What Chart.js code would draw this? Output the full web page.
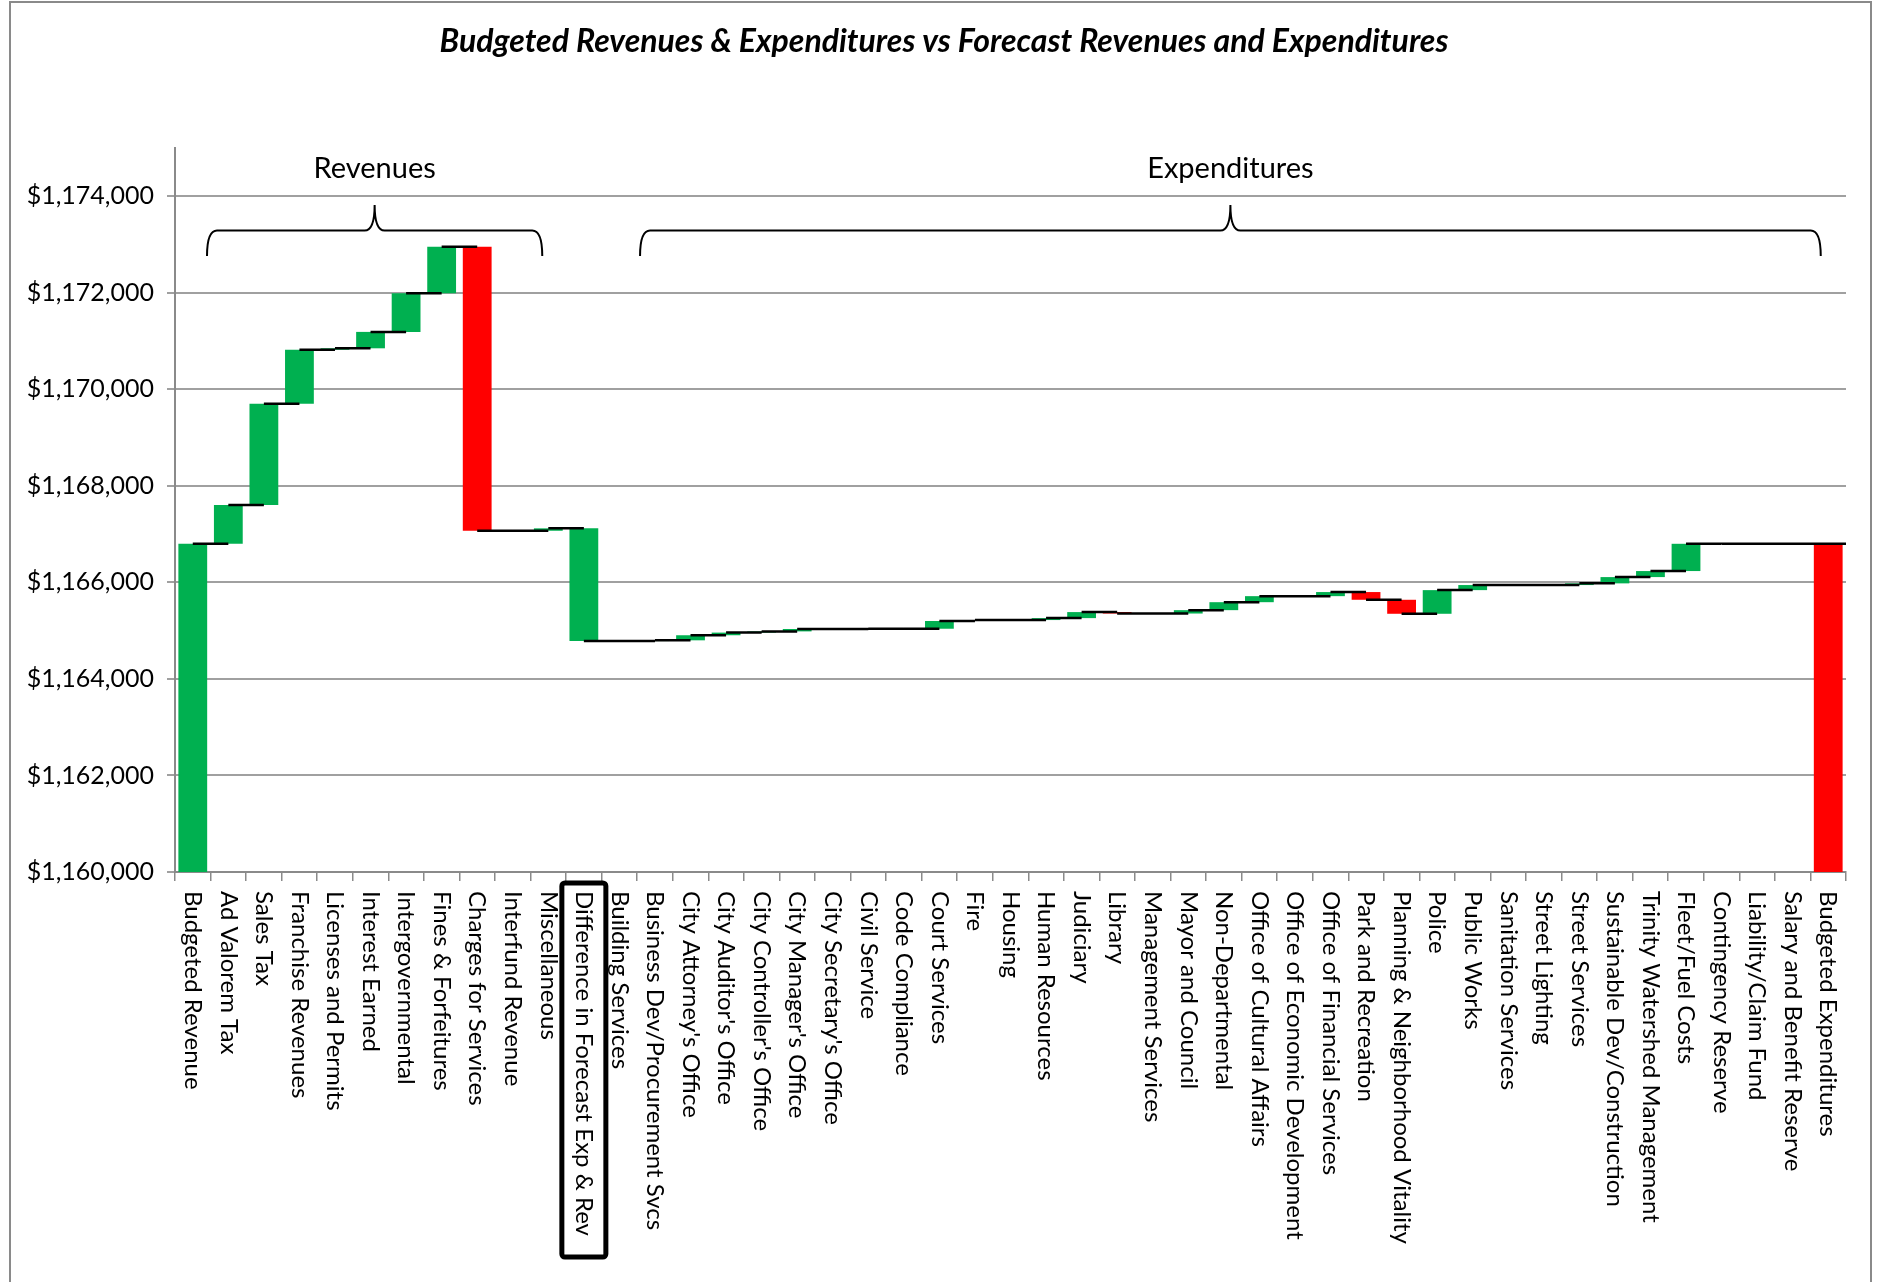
<!DOCTYPE html>
<html>
<head>
<meta charset="utf-8">
<script src="https://cdn.jsdelivr.net/npm/chart.js@4.4.1/dist/chart.umd.min.js"></script>
<style>
  html, body { margin: 0; padding: 0; background: #fff; overflow: hidden; }
  .chart__container { position: relative; width: 1883px; height: 1282px; }
  .chart__frame {
    position: absolute; left: 9px; top: 1px; width: 1859px; height: 1400px;
    border: 2px solid #8a8a8a; pointer-events: none;
  }
</style>
</head>
<body>
<div class="chart__container">
  <canvas id="chart"></canvas>
  <div class="chart__frame"></div>
</div>
<script>
// --- data (in $ thousands) ---
const budgetedRevenue = 1166800;
const budgetedExpenditures = 1166800;

const revenueLabels = [
  'Ad Valorem Tax', 'Sales Tax', 'Franchise Revenues', 'Licenses and Permits',
  'Interest Earned', 'Intergovernmental', 'Fines & Forfeitures',
  'Charges for Services', 'Interfund Revenue', 'Miscellaneous',
];
const revenueChanges = [805, 2095, 1120, 30, 340, 800, 965, -5885, 0, 50];

const differenceLabel = 'Difference in Forecast Exp & Rev';
const differenceChange = -2335;

const expenditureLabels = [
  'Building Services', 'Business Dev/Procurement Svcs', "City Attorney's Office",
  "City Auditor's Office", "City Controller's Office", "City Manager's Office",
  "City Secretary's Office", 'Civil Service', 'Code Compliance', 'Court Services',
  'Fire', 'Housing', 'Human Resources', 'Judiciary', 'Library',
  'Management Services', 'Mayor and Council', 'Non-Departmental',
  'Office of Cultural Affairs', 'Office of Economic Development',
  'Office of Financial Services', 'Park and Recreation',
  'Planning & Neighborhood Vitality', 'Police', 'Public Works',
  'Sanitation Services', 'Street Lighting', 'Street Services',
  'Sustainable Dev/Construction', 'Trinity Watershed Management',
  'Fleet/Fuel Costs', 'Contingency Reserve', 'Liability/Claim Fund',
  'Salary and Benefit Reserve',
];
const expenditureChanges = [
  0, 15, 105, 55, 25, 50, 0, 5, 0, 160,
  20, 0, 40, 125, -30, 0, 70, 165, 125, 0,
  85, -160, -290, 490, 105, 0, 0, 35, 130, 125,
  565, 0, 0, 0,
];

const yTickValues = [1160000, 1162000, 1164000, 1166000, 1168000, 1170000, 1172000, 1174000];
const yMax = 1175000;

const titleText = 'Budgeted Revenues & Expenditures vs Forecast Revenues and Expenditures';

// --- build waterfall from the arrays ---
const categories = ['Budgeted Revenue', ...revenueLabels, differenceLabel, ...expenditureLabels, 'Budgeted Expenditures'];
const changes = [null, ...revenueChanges, differenceChange, ...expenditureChanges, null];
const last = categories.length - 1;
const diffIdx = categories.indexOf(differenceLabel);

const GREEN = '#00b050';
const RED = '#ff0000';

const bars = [];
const levels = [];
const colors = [];
let run = 0;
categories.forEach((c, i) => {
  if (i === 0) {
    bars.push([0, budgetedRevenue]); run = budgetedRevenue; colors.push(GREEN);
  } else if (i === last) {
    bars.push([0, budgetedExpenditures]); run = budgetedExpenditures; colors.push(RED);
  } else {
    const d = changes[i];
    bars.push([run, run + d]);
    run += d;
    colors.push(i === diffIdx || d >= 0 ? GREEN : RED);
  }
  levels.push(run);
});

// connector segments: centre of bar i -> centre of bar i+1 at running level
const connectors = [];
levels.forEach((v, i) => {
  connectors.push({ x: i, y: v }, { x: i + 1, y: v }, { x: i + 1, y: null });
});

const money = (v) => '$' + v.toLocaleString('en-US');

// braces + group captions, placed in category/value units
const groups = [
  { text: 'Revenues', from: 0.40, to: 9.83 },
  { text: 'Expenditures', from: 12.58, to: 45.79 },
];

const overlay = {
  id: 'overlay',
  afterDraw(chart) {
    const { ctx, chartArea } = chart;
    const x = chart.scales.xl;
    const y = chart.scales.y;
    ctx.save();
    // title
    ctx.fillStyle = '#000';
    ctx.font = 'italic bold 32px Lato';
    ctx.textAlign = 'center';
    ctx.textBaseline = 'middle';
    ctx.fillText(titleText, 944, 42);
    // rotated category labels (read top to bottom)
    ctx.font = '24px Lato';
    ctx.textAlign = 'left';
    categories.forEach((label, i) => {
      ctx.save();
      ctx.translate(x.getPixelForValue(i), chartArea.bottom + 19);
      ctx.rotate(Math.PI / 2);
      ctx.fillText(label, 0, 0);
      ctx.restore();
    });
    // box around the difference label
    const bx = x.getPixelForValue(diffIdx);
    ctx.lineWidth = 5;
    ctx.strokeStyle = '#000';
    ctx.beginPath();
    ctx.roundRect(bx - 22, chartArea.bottom + 11, 44, 374, 3);
    ctx.stroke();
    // braces
    const yTip = y.getPixelForValue(1173820);
    const yMid = y.getPixelForValue(1173290);
    const yEnd = y.getPixelForValue(1172760);
    ctx.lineWidth = 2;
    groups.forEach((g) => {
      const x0 = x.getPixelForValue(g.from);
      const x1 = x.getPixelForValue(g.to);
      const xm = (x0 + x1) / 2;
      const r = 10;
      ctx.beginPath();
      ctx.moveTo(x0, yEnd);
      ctx.quadraticCurveTo(x0, yMid, x0 + r, yMid);
      ctx.lineTo(xm - r, yMid);
      ctx.quadraticCurveTo(xm, yMid, xm, yTip);
      ctx.quadraticCurveTo(xm, yMid, xm + r, yMid);
      ctx.lineTo(x1 - r, yMid);
      ctx.quadraticCurveTo(x1, yMid, x1, yEnd);
      ctx.stroke();
      ctx.font = '29px Lato';
      ctx.textAlign = 'center';
      ctx.textBaseline = 'middle';
      ctx.fillText(g.text, xm, y.getPixelForValue(1174575));
    });
    ctx.restore();
  },
};

Chart.defaults.font.family = 'Lato';
Chart.defaults.color = '#000';

new Chart(document.getElementById('chart').getContext('2d'), {
  data: {
    labels: categories,
    datasets: [
      {
        type: 'line',
        data: connectors,
        xAxisID: 'xl',
        borderColor: '#000',
        borderWidth: 2.5,
        pointRadius: 0,
        spanGaps: false,
        order: 0,
      },
      {
        type: 'bar',
        data: bars,
        xAxisID: 'x',
        backgroundColor: colors,
        borderWidth: 0,
        grouped: false,
        barPercentage: 0.81,
        categoryPercentage: 1,
        order: 1,
      },
    ],
  },
  options: {
    responsive: true,
    maintainAspectRatio: false,
    animation: false,
    layout: { padding: { top: 148, right: 37, bottom: 0, left: 0 } },
    plugins: {
      legend: { display: false },
      tooltip: { enabled: false },
      title: { display: false },
    },
    scales: {
      x: {
        type: 'category',
        offset: true,
        afterFit(scale) { scale.height = 410; },
        ticks: { display: false },
        grid: {
          display: true, offset: true, drawOnChartArea: false, drawTicks: true,
          tickLength: 9, color: '#8a8a8a', lineWidth: 1.5,
        },
        border: { display: true, color: '#8a8a8a', width: 2 },
      },
      xl: {
        type: 'linear', display: false, min: -0.5, max: categories.length - 0.5,
      },
      y: {
        min: yTickValues[0],
        max: yMax,
        afterFit(scale) { scale.width = 175; },
        afterBuildTicks(scale) {
          scale.ticks = yTickValues.map((v) => ({ value: v }));
        },
        ticks: {
          font: { size: 25 },
          padding: 13,
          callback: (v) => money(v),
        },
        grid: { color: '#a0a0a0', lineWidth: 2, tickLength: 8 },
        border: { display: true, color: '#8a8a8a', width: 2 },
      },
    },
  },
  plugins: [overlay],
});
</script>
</body>
</html>
